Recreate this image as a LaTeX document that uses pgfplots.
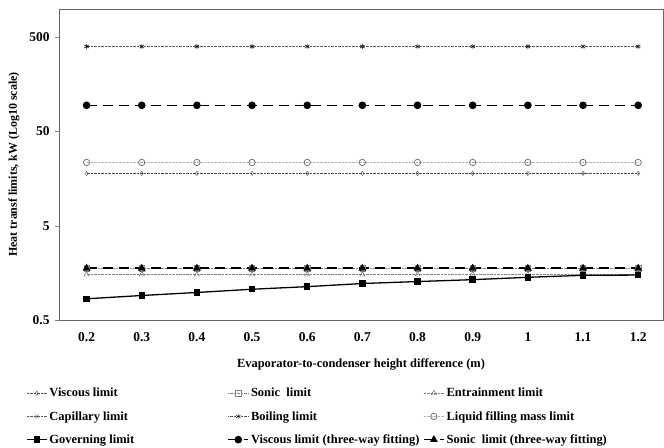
\documentclass[border=0pt]{standalone}
\usepackage{fontspec}
\setmainfont{Liberation Serif}
\usepackage{pgfplots}
\pgfplotsset{compat=1.18}
\begin{document}
\begin{tikzpicture}
\begin{axis}[
  scale only axis, width=604bp, height=311bp,
  ymode=log, ymin=0.5, ymax=1000,
  xmin=0.15, xmax=1.245,
  ytick={0.5,5,50,500}, yticklabels={0.5,5,50,500},
  xtick={0.2,0.3,0.4,0.5,0.6,0.7,0.8,0.9,1,1.1,1.2},
  xticklabels={0.2,0.3,0.4,0.5,0.6,0.7,0.8,0.9,1,1.1,1.2},
  yminorticks=false,
  axis line style={gray!80!black, line width=0.8pt},
  ytick pos=left, xtick style={draw=none},
  ytick style={gray, line width=0.5pt},
  tick align=outside, major tick length=4bp,
  /pgf/number format/assume math mode=true,
  tick label style={font=\fontsize{13.5}{15}\selectfont\bfseries},
  xticklabel style={yshift=-5bp},
  yticklabel style={xshift=-2bp},
  xlabel={\bfseries Evaporator-to-condenser height difference (m)},
  xlabel style={font=\fontsize{12.5}{14}\selectfont, at={(rel axis cs:0.5,0)}, anchor=center, yshift=-44bp},
  ylabel={\bfseries Heat transf limits, kW (Log10 scale)},
  ylabel style={font=\fontsize{12}{14}\selectfont, at={(rel axis cs:0,0.5)}, anchor=center, rotate=0, yshift=45bp},
  clip=false,
  legend columns=3,
  legend cell align=left,
  legend style={draw=none, fill=none, at={(axis description cs:0,0)}, anchor=north west,
    xshift=-33bp, yshift=-66bp, font=\fontsize{12.5}{14}\selectfont\bfseries, row sep=9bp,
    inner sep=0pt, /tikz/every even column/.append style={column sep=0pt}},
  legend image code/.code={\draw[#1] (0bp,0bp) -- (20bp,0bp); \draw[#1, only marks] plot coordinates {(10bp,0bp)};},
]
\addplot[gray!60!black, densely dotted, thin, mark=diamond, mark size=2.2pt, mark options={solid, draw=gray!60!black, fill=white}]
 coordinates {(0.2,18)(0.3,18)(0.4,18)(0.5,18)(0.6,18)(0.7,18)(0.8,18)(0.9,18)(1,18)(1.1,18)(1.2,18)};
\addlegendentry{\makebox[176bp][l]{Viscous limit}}
\addplot[gray, densely dotted, thin, mark=square, mark size=2.6pt, mark options={solid, draw=gray, fill=white}]
 coordinates {(0.2,1.77)(0.3,1.77)(0.4,1.77)(0.5,1.77)(0.6,1.77)(0.7,1.77)(0.8,1.77)(0.9,1.77)(1,1.77)(1.1,1.77)(1.2,1.77)};
\addlegendentry{\makebox[170bp][l]{Sonic\ \ limit}}
\addplot[gray, densely dotted, thin, mark=triangle, mark size=3pt, mark options={solid, draw=gray!70!black, fill=white}]
 coordinates {(0.2,1.52)(0.3,1.52)(0.4,1.52)(0.5,1.52)(0.6,1.52)(0.7,1.52)(0.8,1.52)(0.9,1.52)(1,1.52)(1.1,1.52)(1.2,1.52)};
\addlegendentry{Entrainment limit}
\addplot[gray!70!black, densely dotted, thin, mark=x, mark size=2.6pt, mark options={solid}]
 coordinates {(0.2,400)(0.3,400)(0.4,400)(0.5,400)(0.6,400)(0.7,400)(0.8,400)(0.9,400)(1,400)(1.1,400)(1.2,400)};
\addlegendentry{\makebox[176bp][l]{Capillary limit}}
\addplot[gray!70!black, densely dotted, thin, mark=asterisk, mark size=2.6pt, mark options={solid, black}]
 coordinates {(0.2,400)(0.3,400)(0.4,400)(0.5,400)(0.6,400)(0.7,400)(0.8,400)(0.9,400)(1,400)(1.1,400)(1.2,400)};
\addlegendentry{\makebox[170bp][l]{Boiling limit}}
\addplot[gray!60, densely dotted, thin, mark=o, mark size=3.2pt, mark options={solid, draw=gray!80!black, fill=white, line width=0.7pt}]
 coordinates {(0.2,23.5)(0.3,23.5)(0.4,23.5)(0.5,23.5)(0.6,23.5)(0.7,23.5)(0.8,23.5)(0.9,23.5)(1,23.5)(1.1,23.5)(1.2,23.5)};
\addlegendentry{Liquid filling mass limit}
\addplot[black, line width=1.3pt, mark=square*, mark size=2.6pt, mark options={solid}]
 coordinates {(0.2,0.84)(0.3,0.91)(0.4,0.98)(0.5,1.06)(0.6,1.13)(0.7,1.22)(0.8,1.28)(0.9,1.34)(1,1.42)(1.1,1.49)(1.2,1.50)};
\addlegendentry{\makebox[176bp][l]{Governing limit}}
\addplot[black, line width=1.6pt, dash pattern=on 10bp off 6bp, mark=*, mark size=3pt, mark options={solid}]
 coordinates {(0.2,95)(0.3,95)(0.4,95)(0.5,95)(0.6,95)(0.7,95)(0.8,95)(0.9,95)(1,95)(1.1,95)(1.2,95)};
\addlegendentry{\makebox[170bp][l]{Viscous limit (three-way fitting)}}
\addplot[black, line width=1.6pt, dash pattern=on 10bp off 6bp, mark=triangle*, mark size=3pt, mark options={solid}]
 coordinates {(0.2,1.77)(0.3,1.77)(0.4,1.77)(0.5,1.77)(0.6,1.77)(0.7,1.77)(0.8,1.77)(0.9,1.77)(1,1.77)(1.1,1.77)(1.2,1.77)};
\addlegendentry{Sonic\ \ limit (three-way fitting)}
\end{axis}
\path (-59bp,-128bp) rectangle (605bp,320bp);
\end{tikzpicture}
\end{document}
